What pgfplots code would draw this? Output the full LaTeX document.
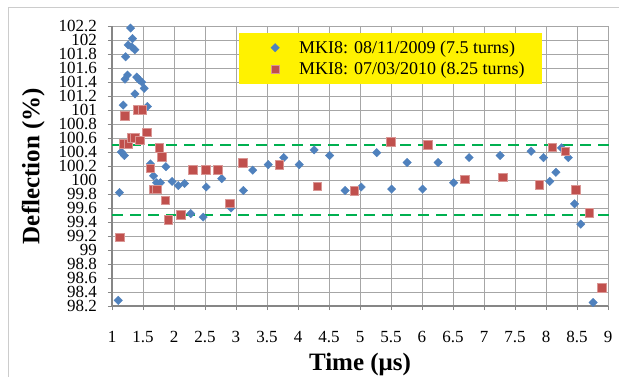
\documentclass[border=0pt]{standalone}
\usepackage{fontspec}
\setmainfont{Liberation Serif}
\usepackage{pgfplots}
\pgfplotsset{compat=1.18}
\definecolor{sblue}{HTML}{4F81BD}
\definecolor{sred}{HTML}{C0504D}
\definecolor{sgreen}{HTML}{00B050}
\definecolor{gridc}{HTML}{A6A6A6}
\definecolor{axc}{HTML}{868686}
\pgfplotsset{mymarklegend/.style={legend image code/.code={\path[draw=none,fill=none] (-12.5pt,0pt) -- (17pt,0pt); \draw[##1, only marks] plot coordinates {(8.5pt,0pt)};}}}
\begin{document}
\begin{tikzpicture}[x=1pt,y=1pt]
\useasboundingbox (0,0) rectangle (619,376);
\fill[white] (0,0) rectangle (619,376);
\draw[color=gray!40, line width=1pt] (8,-20) rectangle (640,368);
\begin{axis}[at={(112pt,70pt)}, anchor=south west, scale only axis,
  width=496pt, height=280pt,
  xmin=1, xmax=9, ymin=98.2, ymax=102.2,
  clip=false,
  xtick={1,1.5,2,2.5,3,3.5,4,4.5,5,5.5,6,6.5,7,7.5,8,8.5,9},
  ytick={98.2,98.4,98.6,98.8,99,99.2,99.4,99.6,99.8,100,100.2,100.4,100.6,100.8,101,101.2,101.4,101.6,101.8,102,102.2},
  scaled ticks=false,
  /pgf/number format/.cd, fixed, precision=1, assume math mode=true, /pgfplots/.cd,
  tick label style={font=\fontsize{17}{17}\selectfont},
  xticklabel style={anchor=base, yshift=-32pt},
  yticklabel style={anchor=east, inner sep=0pt, xshift=-11pt},
  axis lines*=left,
  axis line style={axc, line width=1.4pt},
  tick style={axc, line width=0.9pt},
  tick align=outside, major tick length=4pt,
  grid=major, major grid style={gridc, line width=0.9pt},
  every axis x label/.style={at={(axis description cs:0.5,-0.2286)}, anchor=base, font=\fontsize{25}{25}\selectfont\bfseries},
  every axis y label/.style={at={(axis description cs:-0.159,0.5)}, rotate=90, anchor=center, font=\fontsize{25}{25}\selectfont\bfseries},
  xlabel={Time (μs)},
  ylabel={Deflection (\%)},
  legend style={at={(0.256,0.975)}, anchor=north west, fill=yellow, draw=none,
    inner xsep=15pt, inner ysep=5.5pt, font=\fontsize{18}{18}\selectfont,
    row sep=3.5pt, column sep=13.5pt, nodes={inner sep=2pt}},
  legend cell align=left,
]
\addplot[sgreen, line width=2.2pt, dash pattern=on 10.5pt off 7.5pt, forget plot] coordinates {(1,100.5) (9.05,100.5)};
\addplot[sgreen, line width=2.2pt, dash pattern=on 10.5pt off 7.5pt, forget plot] coordinates {(1,99.5) (9.05,99.5)};
\addplot[only marks, mark=square*, mark size=3pt, mark options={rotate=45, fill=sblue, draw=sblue, line width=0.3pt}, mymarklegend]
coordinates {
(1.10,98.28) (1.12,99.82) (1.15,100.40) (1.18,101.07) (1.20,100.35) (1.21,101.44)
(1.22,101.76) (1.25,101.50) (1.26,101.93) (1.30,102.17) (1.32,101.90) (1.33,102.02)
(1.37,101.86) (1.37,101.23) (1.40,101.47) (1.44,101.43) (1.48,101.40) (1.52,101.31)
(1.57,101.05) (1.62,100.23) (1.67,100.06) (1.72,99.96) (1.78,99.96) (1.87,100.19)
(1.97,99.98) (2.07,99.92) (2.17,99.95) (2.27,99.52) (2.47,99.47) (2.52,99.90)
(2.77,100.02) (2.92,99.60) (3.12,99.85) (3.27,100.14) (3.52,100.22) (3.77,100.32)
(4.02,100.22) (4.26,100.43) (4.51,100.35) (4.76,99.85) (5.02,99.90) (5.27,100.39)
(5.51,99.87) (5.76,100.25) (6.01,99.87) (6.26,100.25) (6.51,99.96) (6.76,100.32)
(7.26,100.35) (7.76,100.41) (7.96,100.32) (8.06,99.98) (8.16,100.11) (8.25,100.46)
(8.36,100.32) (8.46,99.66) (8.56,99.37) (8.76,98.25)
};
\addlegendentry{MKI8: 08/11/2009 (7.5 turns)}
\addplot[only marks, mark=square*, mark size=4.3pt, mark options={fill=sred, draw=sred!60!white, line width=0.6pt}, mymarklegend]
coordinates {
(1.13,99.18) (1.18,100.52) (1.21,100.92) (1.26,100.52) (1.32,100.60) (1.37,100.60)
(1.41,101.00) (1.45,100.57) (1.49,101.00) (1.56,100.68) (1.62,100.17) (1.67,99.87)
(1.72,99.87) (1.76,100.46) (1.80,100.33) (1.86,99.71) (1.91,99.43) (2.11,99.50)
(2.30,100.15) (2.51,100.15) (2.71,100.15) (2.90,99.67) (3.11,100.25) (3.70,100.22)
(4.31,99.91) (4.91,99.85) (5.50,100.55) (6.09,100.50) (6.69,100.01) (7.30,100.04)
(7.89,99.93) (8.10,100.47) (8.31,100.41) (8.48,99.86) (8.70,99.53) (8.90,98.46)
};
\addlegendentry{MKI8: 07/03/2010 (8.25 turns)}
\end{axis}
\end{tikzpicture}
\end{document}
